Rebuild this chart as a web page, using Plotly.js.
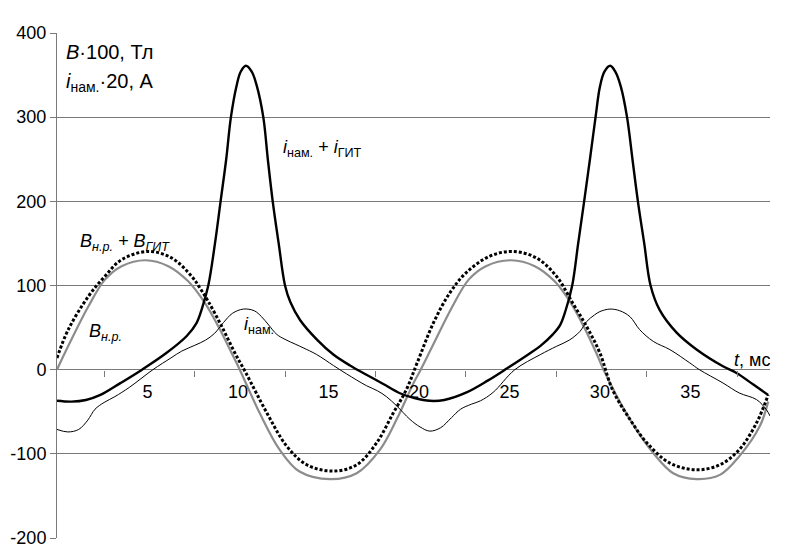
<!DOCTYPE html>
<html>
<head>
<meta charset="utf-8">
<script src="https://cdn.plot.ly/plotly-3.0.1.min.js"></script>
<style>html,body{margin:0;padding:0;background:#fff;}#chart{width:801px;height:558px;}</style>
</head>
<body>
<div id="chart"></div>
<script>
const tSum = [0, 0.8, 1.6, 2.4, 3.5, 4.7, 6.06, 7.17, 7.7, 8.0, 8.36, 8.73, 9.04, 9.35, 9.61, 9.93, 10.15, 10.44, 10.76, 11.03, 11.4, 11.65, 11.92, 12.25, 12.6, 12.9, 13.43, 14.35, 15.27, 16.19, 17.1, 18.03, 18.95, 19.8, 20.6, 21.4, 22.63, 23.8, 24.9, 26.1, 26.7, 27.4, 27.8, 28.1, 28.47, 28.8, 29.13, 29.45, 29.76, 30.0, 30.25, 30.57, 30.85, 31.16, 31.5, 31.8, 32.1, 32.45, 32.8, 33.3, 34.24, 35.34, 36.8, 37.55, 38.5, 39.3];
const iSum = [-37, -38, -36, -30, -16, 0, 20, 40, 55, 72, 100, 150, 200, 250, 300, 338, 354, 361, 354, 338, 300, 250, 200, 150, 100, 80, 59, 36, 18, 5, -6, -17, -28, -34, -37, -36, -27, -13, 2, 19, 28, 42, 53, 70, 100, 150, 200, 250, 300, 336, 354, 361, 354, 336, 300, 250, 200, 150, 100, 71, 44, 24, 4, -4, -18, -30];

const tNam = [0, 0.6, 1.2, 1.7, 2.1, 2.6, 3.2, 4.0, 5.3, 6.3, 6.89, 7.62, 8.2, 8.7, 9.2, 9.7, 10.3, 10.9, 11.3, 11.7, 12.14, 12.6, 13.2, 13.6, 14.35, 15.27, 16.0, 17.1, 17.7, 18.2, 18.77, 19.5, 20.06, 20.6, 21.2, 21.8, 22.3, 22.9, 23.4, 24.1, 25.3, 26.7, 27.6, 28.3, 28.9, 29.26, 29.7, 30.0, 30.55, 31.1, 31.66, 32.2, 32.95, 33.87, 34.97, 35.5, 36.8, 37.7, 38.66, 39.2, 39.4];
const iNam = [-71, -74, -71, -60, -47, -39, -32, -21, 0, 14, 22, 29, 35, 43, 56, 67, 72, 70, 63, 53, 42, 36, 30, 26, 18, 5, -5, -19, -25, -32, -43, -59, -68, -73, -69, -57, -47, -41, -37, -27, 0, 17.8, 27.7, 35, 45.5, 57, 65, 69, 72, 70, 63, 47.5, 33.6, 23.8, 8, 0, -15.8, -27.7, -35.6, -47.5, -55];

const tBnr = [0, 0.62, 1.73, 2.65, 3.57, 4.9, 6.15, 7.25, 8.18, 8.91, 9.65, 10.1, 11.2, 12.3, 13.4, 15.1, 16.56, 17.85, 18.77, 19.7, 20.1, 20.75, 21.85, 22.75, 23.7, 25.1, 26.4, 27.5, 28.4, 29.1, 29.8, 30.2, 31.66, 32.95, 34.05, 35.34, 36.63, 37.7, 38.84, 39.3];
const bNr = [0, 28, 75, 107, 123, 130, 123, 105, 79, 51.5, 19.8, 0, -51.5, -95, -121, -130, -123, -95, -59, -16, 0, 28, 75, 107, 123, 130, 123, 105, 79, 51.5, 19.8, 0, -59, -99, -123, -130, -125, -103, -67, -38];

const tBsum = [0, 0.62, 1.73, 2.65, 3.57, 5.05, 6.34, 7.44, 7.9, 8.36, 9.1, 9.83, 10.44, 11.6, 12.7, 13.8, 15.27, 16.56, 17.66, 18.58, 19.3, 19.9, 20.8, 21.7, 22.6, 23.9, 25.2, 26.5, 27.6, 28.5, 29.26, 30.0, 30.7, 31.66, 32.6, 33.87, 35.34, 36.63, 37.7, 38.66, 39.3];
const bSum = [14, 47.5, 87, 111, 130.7, 140.5, 132.7, 111, 97, 81, 51.5, 19.8, -4, -51.5, -91, -113, -120.5, -113, -87, -51.5, -24, 8, 55.5, 91, 115, 134.7, 140.5, 132.7, 111, 79, 51.5, 19.8, -24, -59, -87, -111, -119, -113, -95, -63, -30];

const xTickVals = [5, 10, 15, 20, 25, 30, 35];
const yTickVals = [-200, -100, 0, 100, 200, 300, 400];
const yTickText = ['-200', '-100', '0', '100', '200', '300', '400'];

const FONT = 'Arial, Liberation Sans, sans-serif';
const GRID = '#7a7a7a';

const traces = [
  {x: tBnr, y: bNr, mode: 'lines', line: {color: '#8c8c8c', width: 2.2, shape: 'spline', smoothing: 1}, hoverinfo: 'skip'},
  {x: tNam, y: iNam, mode: 'lines', line: {color: '#000', width: 1, shape: 'spline', smoothing: 1}, hoverinfo: 'skip'},
  {x: tSum, y: iSum, mode: 'lines', line: {color: '#000', width: 2.4, shape: 'spline', smoothing: 1}, hoverinfo: 'skip'},
  {x: tBsum, y: bSum, mode: 'lines', line: {color: '#000', width: 3, dash: '3px,2px', shape: 'spline', smoothing: 1}, hoverinfo: 'skip'}
];

const ann = (x, y, text, size) => ({x, y, xref: 'x', yref: 'y', text, showarrow: false, xanchor: 'left', yanchor: 'middle', font: {family: FONT, size: size || 18, color: '#000'}});

const layout = {
  width: 801, height: 558,
  margin: {l: 57, r: 31, t: 33, b: 20},
  paper_bgcolor: '#fff', plot_bgcolor: '#fff',
  showlegend: false,
  font: {family: FONT, size: 18, color: '#000'},
  xaxis: {
    range: [0, 39.4], tickmode: 'array', tickvals: xTickVals,
    ticks: 'outside', ticklen: 6, tickcolor: 'rgba(0,0,0,0)',
    minor: {tickmode: 'linear', tick0: 2.6, dtick: 5, ticks: 'outside', ticklen: 6, tickcolor: GRID, showgrid: false},
    showgrid: false, zeroline: false, showline: false,
    anchor: 'free', position: 1/3,
    tickfont: {family: FONT, size: 18, color: '#000'}
  },
  yaxis: {
    range: [-200, 400], tickmode: 'array', tickvals: yTickVals, ticktext: yTickText,
    showgrid: true, gridcolor: GRID, gridwidth: 1,
    zeroline: true, zerolinecolor: GRID, zerolinewidth: 1,
    showline: true, linecolor: GRID, linewidth: 1,
    ticks: 'outside', ticklen: 6, tickcolor: GRID,
    tickfont: {family: FONT, size: 18, color: '#000'}
  },
  annotations: [
    ann(0.4, 378, '<i>B</i>·100, Тл', 20),
    ann(0.4, 341, '<i>i</i><sub>нам.</sub>·20, А', 20),
    ann(12.4, 263, '<i>i</i><sub>нам.</sub> + <i>i</i><sub>ГИТ</sub>', 18),
    ann(1.15, 151, '<i>B<sub>н.р.</sub> + B<sub>ГИТ</sub></i>', 18),
    ann(1.65, 44, '<i>B<sub>н.р.</sub></i>', 18),
    ann(10.2, 52, '<i>i</i><sub>нам.</sub>', 18),
    ann(37.3, 12, '<i>t</i>, мс', 18)
  ]
};

Plotly.newPlot('chart', traces, layout, {staticPlot: true, displayModeBar: false});
</script>
</body>
</html>
